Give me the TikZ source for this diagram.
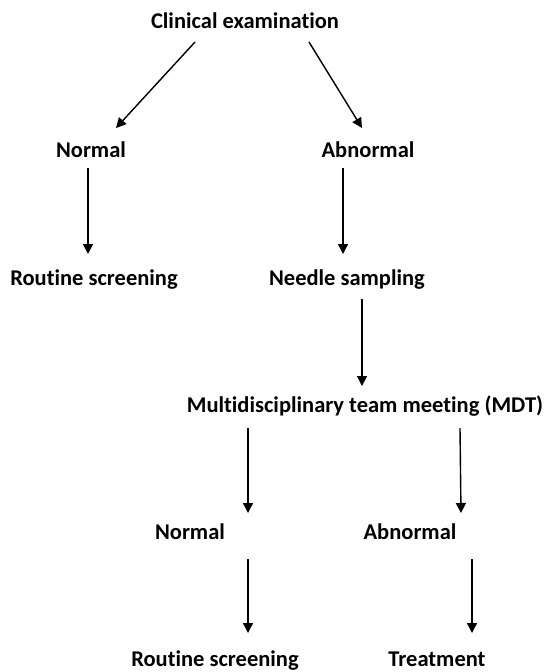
\documentclass[tikz,border=0pt]{standalone}
\usepackage{fontspec}
\setmainfont{Carlito}[Ligatures={NoCommon}]
\usetikzlibrary{arrows.meta}
\begin{document}
\begin{tikzpicture}[x=1pt,y=1pt,
  lbl/.style={font=\bfseries\fontsize{22.5}{26}\selectfont, inner sep=0pt, anchor=base},
  arr/.style={line width=1.4pt, -{Triangle[length=10pt,width=10pt]}}]
\useasboundingbox (0,0) rectangle (553,-672);
\node[lbl] (ce) at (245,-28) {Clinical examination};
\node[lbl] (n1) at (91,-157) {Normal};
\node[lbl] (a1) at (368,-157) {Abnormal};
\node[lbl] (rs1) at (94,-285) {Routine screening};
\node[lbl] (ns) at (347,-285) {Needle sampling};
\node[lbl] (mdt) at (365,-412) {Multidisciplinary team meeting (MDT)};
\node[lbl] (n2) at (190,-539) {Normal};
\node[lbl] (a2) at (410,-539) {Abnormal};
\node[lbl] (rs2) at (215,-666) {Routine screening};
\node[lbl] (tr) at (437,-666) {Treatment};
% connector end points
\coordinate (c1s) at (195,-42); \coordinate (c1e) at (116,-128);
\coordinate (c2s) at (309,-42); \coordinate (c2e) at (362,-128);
\coordinate (c3s) at (88,-168);  \coordinate (c3e) at (88,-254);
\coordinate (c4s) at (343,-168); \coordinate (c4e) at (343,-254);
\coordinate (c5s) at (362,-299); \coordinate (c5e) at (362,-386);
\coordinate (c6s) at (248,-428); \coordinate (c6e) at (248,-513);
\coordinate (c7s) at (460,-428); \coordinate (c7e) at (461,-513);
\coordinate (c8s) at (248,-559); \coordinate (c8e) at (248,-633);
\coordinate (c9s) at (472,-559); \coordinate (c9e) at (472,-633);
\draw[arr] (c1s) -- (c1e);
\draw[arr] (c2s) -- (c2e);
\draw[arr] (c3s) -- (c3e);
\draw[arr] (c4s) -- (c4e);
\draw[arr] (c5s) -- (c5e);
\draw[arr] (c6s) -- (c6e);
\draw[arr] (c7s) -- (c7e);
\draw[arr] (c8s) -- (c8e);
\draw[arr] (c9s) -- (c9e);
\end{tikzpicture}
\end{document}
